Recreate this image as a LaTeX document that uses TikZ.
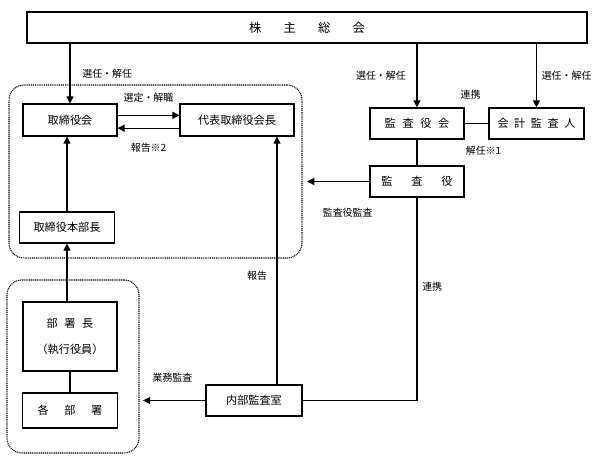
\documentclass[tikz,border=0pt]{standalone}
\usepackage{fontspec}
\newfontfamily\jp{Noto Sans CJK JP}
\usetikzlibrary{arrows.meta,positioning}

\begin{document}
\begin{tikzpicture}[
  x=0.03cm, y=-0.03cm,
  box/.style={draw, line width=1pt, inner sep=0pt, minimum width=2.82cm,
    minimum height=0.93cm, font=\jp\fontsize{9.5}{11}\selectfont},
  group/.style={draw, dash pattern=on 0.9pt off 0.7pt, line width=0.9pt, rounded corners=0.45cm,
    minimum height=5.19cm},
  arr/.style={-{Triangle[length=6pt,width=6pt]}, line width=1pt},
  link/.style={line width=1pt},
  lbl/.style={inner sep=1pt, font=\jp\fontsize{8.5}{10}\selectfont}
]
\useasboundingbox (0,0) rectangle (606,460);

\node[group, minimum width=8.79cm] (grp1) at (155.5,171.5) {};
\node[group, minimum width=3.96cm] (grp2) at (73,366.5) {};

\node[box, minimum width=16.8cm, font=\jp\fontsize{10.5}{12}\selectfont] (sokai) at (307,27.5)
  {株\hspace{1.8em}主\hspace{1.8em}総\hspace{1.8em}会};
\node[box, minimum height=0.96cm] (torikai) at (70,120) {取締役会};
\node[box, minimum width=3.42cm, minimum height=0.96cm] (daihyo) at (237,120) {代表取締役会長};
\node[box, minimum width=2.85cm] (honbucho) at (67,227.5) {取締役本部長};
\node[box] (kansayakukai) at (417,123.5) {監\hspace{0.6em}査\hspace{0.6em}役\hspace{0.6em}会};
\node[box, minimum width=2.85cm] (kaikei) at (536.5,123.5) {会\hspace{0.5em}計\hspace{0.5em}監\hspace{0.5em}査\hspace{0.5em}人};
\node[box] (kansayaku) at (417,181.5) {監\hspace{1.7em}査\hspace{1.7em}役};
\node[box, minimum height=2.07cm, align=center] (bushocho) at (70,336.5)
  {部\hspace{0.6em}署\hspace{0.6em}長\\[1.2em]（執行役員）};
\node[box, minimum width=2.85cm, minimum height=1.05cm] (kakubusho) at (70,410.5)
  {各\hspace{1.4em}部\hspace{1.4em}署};
\node[box, minimum width=2.88cm] (naibu) at (254,400.5) {内部監査室};

\coordinate (rep) at (277,0);

\foreach \n/\anc/\dx in {torikai/west/9pt, kansayakukai/east/-8pt, kaikei/west/3pt}
  \draw[arr] (sokai.south -| \n.north) -- node[lbl, anchor=\anc, xshift=\dx] {選任・解任} (\n.north);

\draw[arr] ([yshift=4pt]torikai.east) -- node[lbl, above=9.5pt] {選定・解職}
  ([yshift=4pt]torikai.east -| daihyo.west);
\draw[arr] ([yshift=-7pt]torikai.east -| daihyo.west) -- node[lbl, below=11pt] {報告※2}
  ([yshift=-7pt]torikai.east);
\draw[arr] (honbucho.north) -- (honbucho.north |- torikai.south);
\draw[arr] (bushocho.north -| honbucho) -- (honbucho.south);
\draw[link] (bushocho.south) -- (kakubusho.north);

\draw[link] (kansayakukai) -- node[lbl, above=19pt, xshift=-5pt] {連携}
  node[lbl, below=18pt, xshift=6pt] {解任※1} (kaikei);
\draw[link] (kansayakukai.south) -- (kansayakukai.south |- kansayaku.north);
\draw[arr, shorten >=4pt] (kansayaku.west) -- node[lbl, below=21pt, xshift=10pt] {監査役監査}
  (kansayaku.west -| grp1.east);
\draw[link] (kansayaku.south) |- node[lbl, pos=0.22, right=3pt] {連携} (naibu.east);

\draw[arr] (naibu.north -| rep) -- node[lbl, pos=0.44, left=7pt] {報告} (daihyo.south -| rep);
\draw[arr, shorten >=3pt] (naibu.west) -- node[lbl, above=14pt] {業務監査} (naibu.west -| grp2.east);
\end{tikzpicture}
\end{document}
